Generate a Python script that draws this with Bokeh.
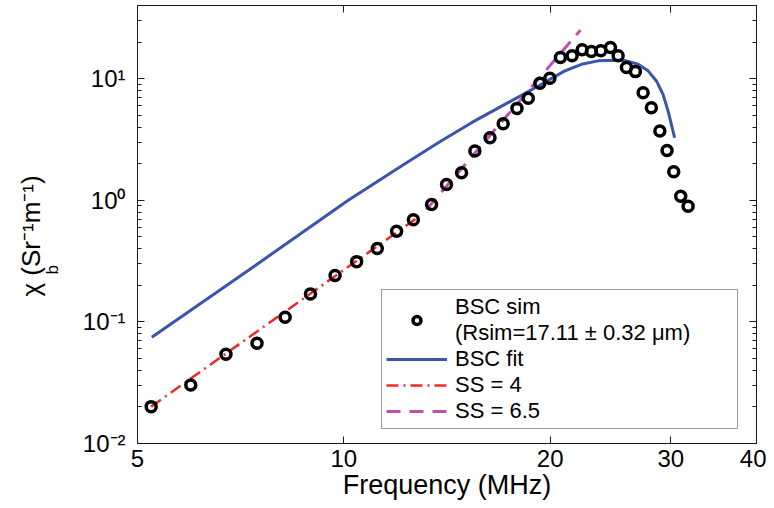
from bokeh.plotting import figure
from bokeh.models import (FixedTicker, LogAxis, CustomJSTickFormatter, Legend,
                          LegendItem, Title, Range1d)
from bokeh.embed import file_html
from bokeh.resources import INLINE

# ---- data ----
freq_sim = [5.235, 5.98, 6.73, 7.47, 8.21, 8.94, 9.71, 10.44, 11.19, 11.94,
            12.63, 13.43, 14.12, 14.85, 15.53, 16.34, 17.08, 17.89, 18.58, 19.32,
            19.98, 20.70, 21.53, 22.27, 22.97, 23.71, 24.49, 25.13, 25.84, 26.63,
            27.33, 28.10, 28.91, 29.62, 30.29, 31.01, 31.79]
bsc_sim = [0.0201, 0.0303, 0.0542, 0.0668, 0.109, 0.170, 0.241, 0.313, 0.401, 0.556,
           0.693, 0.922, 1.347, 1.682, 2.54, 3.27, 4.26, 5.70, 6.92, 9.16,
           10.08, 14.93, 15.42, 17.28, 16.73, 16.95, 18.05, 15.42, 12.35, 11.44,
           7.68, 5.78, 3.71, 2.57, 1.714, 1.081, 0.894]

freq_fit = [5.246, 7.42, 10.15, 12.28, 13.73, 15.36, 17.18, 19.22, 21.01, 22.22,
            23.50, 24.85, 25.84, 26.87, 27.79, 28.58, 29.22, 29.72, 30.05, 30.38]
bsc_fit = [0.0748, 0.29, 1.002, 1.995, 2.97, 4.35, 6.15, 8.72, 11.60, 13.14,
           14.02, 14.18, 14.02, 13.14, 11.60, 9.59, 7.43, 5.43, 4.21, 3.27]

freq_ss4 = [5.235, 12.9]
bsc_ss4 = [0.0201, 0.741]
freq_ss65 = [13.2, 22.14]
bsc_ss65 = [0.84, 25.1]

x_ticks = [5, 10, 20, 30, 40]
y_ticks = [0.01, 0.1, 1, 10]
y_minor = [k * 10.0 ** e for e in range(-2, 2) for k in range(2, 10) if k * 10.0 ** e <= 40]

FONT = "Liberation Sans"
INK = "#1a1a1a"

p = figure(width=766, height=504, x_axis_type="log", y_axis_type="log",
           x_range=Range1d(5, 40), y_range=Range1d(0.01, 40),
           output_backend="svg", toolbar_location=None,
           min_border_left=137, min_border_right=10, min_border_top=5,
           min_border_bottom=61)
p.xgrid.visible = False
p.ygrid.visible = False
p.outline_line_color = INK
p.outline_line_width = 1
p.background_fill_color = "white"
p.border_fill_color = "white"

ytick_code = """
const e = Math.round(Math.log10(tick));
const m = {"-": "\u207b", "0": "\u2070", "1": "\u00b9", "2": "\u00b2", "3": "\u00b3"};
return "10" + String(e).split("").map(c => m[c]).join("");
"""
xtick_code = "return String(Math.round(tick));"

xa = p.xaxis[0]
xa.ticker = FixedTicker(ticks=x_ticks, minor_ticks=[])
xa.formatter = CustomJSTickFormatter(code=xtick_code)
ya = p.yaxis[0]
ya.ticker = FixedTicker(ticks=y_ticks, minor_ticks=y_minor)
ya.formatter = CustomJSTickFormatter(code=ytick_code)

for ax in (xa, ya):
    ax.major_tick_in = 7
    ax.major_tick_out = 0
    ax.minor_tick_in = 4
    ax.minor_tick_out = 0
    ax.axis_line_color = INK
    ax.major_tick_line_color = INK
    ax.minor_tick_line_color = INK
    ax.major_label_text_font = FONT
    ax.major_label_text_font_size = "24px"
    ax.major_label_text_color = "black"

xa.major_label_standoff = 6
xa.axis_label = "Frequency (MHz)"
xa.axis_label_text_font = FONT
xa.axis_label_text_font_size = "27px"
xa.axis_label_text_font_style = "normal"
xa.axis_label_text_color = "black"
xa.axis_label_standoff = 0
ya.major_label_standoff = 12
# blank axis label: only widens the axis panel so the y title sits further left
ya.axis_label = " "
ya.axis_label_text_font_size = "14px"
ya.axis_label_standoff = 4

# box ticks on top and right (no labels)
top = LogAxis(ticker=FixedTicker(ticks=x_ticks, minor_ticks=[]),
              formatter=CustomJSTickFormatter(code="return '';"))
right = LogAxis(ticker=FixedTicker(ticks=y_ticks, minor_ticks=y_minor),
                formatter=CustomJSTickFormatter(code="return '';"))
for ax in (top, right):
    ax.major_tick_in = 7
    ax.major_tick_out = 0
    ax.minor_tick_in = 4
    ax.minor_tick_out = 0
    ax.major_label_text_font_size = "2px"
    ax.major_label_standoff = 0
    ax.axis_line_color = INK
    ax.major_tick_line_color = INK
    ax.minor_tick_line_color = INK
p.add_layout(top, "above")
p.add_layout(right, "right")

# ---- y-axis label: subscript "b" panel next to the axis, main text outside ----
t_b = Title(text="b", text_font=FONT, text_font_size="17px", text_font_style="normal",
            text_color="black", align="left", offset=169, standoff=-10)
t_main = Title(text="\u03c7   (Sr\u207b\u00b9m\u207b\u00b9)", text_font=FONT,
               text_font_size="26px", text_font_style="normal", text_color="black",
               align="left", offset=147, standoff=0)
p.add_layout(t_b, "left")
p.add_layout(t_main, "left")

# ---- glyphs ----
fit = p.line(freq_fit, bsc_fit, line_color="#3a55aa", line_width=3)
ss4 = p.line(freq_ss4, bsc_ss4, line_color="#f02828", line_width=2.5, line_dash="12 5 2 5")
ss65 = p.line(freq_ss65, bsc_ss65, line_color="#c04fb0", line_width=3, line_dash="14 9")
sim = p.scatter(freq_sim, bsc_sim, marker="circle", size=10, fill_color=None,
                line_color="black", line_width=3.5)

# ---- legend ----
legend = Legend(items=[
    LegendItem(label="BSC sim\n(Rsim=17.11 \u00b1 0.32 \u03bcm)       ", renderers=[sim]),
    LegendItem(label="BSC fit", renderers=[fit]),
    LegendItem(label="SS = 4", renderers=[ss4]),
    LegendItem(label="SS = 6.5", renderers=[ss65]),
], location=(244, 14))
legend.label_text_font = FONT
legend.label_text_font_size = "22px"
legend.label_text_color = "black"
legend.label_standoff = 8
legend.glyph_width = 61
legend.glyph_height = 20
legend.label_height = 20
legend.spacing = 0
legend.padding = 4
legend.margin = 0
legend.border_line_color = "#3c3c3c"
legend.border_line_width = 1.2
legend.background_fill_alpha = 1
p.add_layout(legend, "center")

open("out.html", "w").write(file_html(p, INLINE))
